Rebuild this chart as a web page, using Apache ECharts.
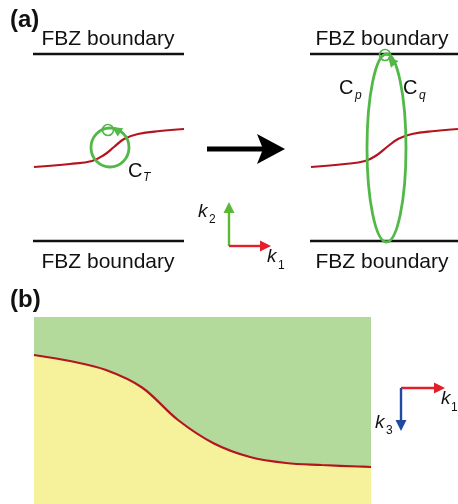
<!DOCTYPE html>
<html>
<head>
<meta charset="utf-8">
<script src="https://cdn.jsdelivr.net/npm/echarts@6/dist/echarts.min.js"></script>
<style>
  html, body { margin: 0; padding: 0; background: #fff; }
  #chart { width: 458px; height: 504px; }
</style>
</head>
<body>
<div id="chart"></div>
<script>
// everything is placed in a 458 x 504 value space (y grows downward)
const boundaryYs = [54, 241];
const panelSpans = [[33, 184], [310, 458]];

// red curve in panel (a), before and after
const leftCurve = [[34, 167], [70, 164], [92, 161], [104, 155], [114, 147], [124, 139], [138, 134], [160, 131], [184, 129]];
const rightCurve = [[311, 167], [345, 164], [365, 161], [377, 155], [387, 147], [398, 139], [412, 134], [435, 131], [458, 129]];

// loops: [cx, cy, rx, ry]
const loops = [[110, 147.5, 19, 19.5], [386.5, 148, 19.5, 94]];
const smallLoops = [[108, 130, 5.5, 5.5], [385, 55, 5.5, 5.5]];
// loop arrowheads: [tipX, tipY, fromX, fromY]
const loopHeads = [[112, 127, 123, 134], [388, 57, 397, 67]];

// coordinate arrows: [x1, y1, x2, y2, colour index]
const axisArrows = [
  [229, 246, 229, 202, 0],
  [229, 246, 271, 246, 1],
  [401, 388, 445, 388, 1],
  [401, 388, 401, 431, 2]
];
const bigArrow = [[207, 149, 285, 149]];

// panel (b): phase boundary
const phaseBox = [[34, 317, 371, 504]];
const phaseBoundary = [[34, 355], [70, 361], [106, 370], [142, 387.5], [178, 420], [214, 443.5], [250, 457], [286, 463], [322, 465], [358, 466.5], [371, 467]];

const RED_CURVE = '#b3151f';
const GREEN = '#52b847';
const ARROW_COLORS = ['#5bb832', '#e3202a', '#1f4aa0'];
const FONT = '"Liberation Sans", Arial, sans-serif';

const chart = echarts.init(document.getElementById('chart'));

function segData(spans, ys) {
  const out = [];
  ys.forEach(y => spans.forEach(s => out.push([s[0], y, s[1], y])));
  return out;
}

function arrowItem(params, api, color, width, headLen, headHalf, notch) {
  const a = api.coord([api.value(0), api.value(1)]);
  const b = api.coord([api.value(2), api.value(3)]);
  const dx = b[0] - a[0], dy = b[1] - a[1];
  const len = Math.sqrt(dx * dx + dy * dy);
  const ux = dx / len, uy = dy / len;
  const px = -uy, py = ux;
  const bx = b[0] - ux * headLen, by = b[1] - uy * headLen;
  const nx = b[0] - ux * (headLen - notch), ny = b[1] - uy * (headLen - notch);
  return {
    type: 'group',
    children: [
      { type: 'line', shape: { x1: a[0], y1: a[1], x2: nx, y2: ny },
        style: { stroke: color, lineWidth: width } },
      { type: 'polygon', shape: { points: [b, [bx + px * headHalf, by + py * headHalf], [nx, ny], [bx - px * headHalf, by - py * headHalf]] },
        style: { fill: color } }
    ]
  };
}

function ellipseItem(params, api, width) {
  const c = api.coord([api.value(0), api.value(1)]);
  const s = api.size([api.value(2), api.value(3)]);
  return { type: 'ellipse', shape: { cx: c[0], cy: c[1], rx: Math.abs(s[0]), ry: Math.abs(s[1]) },
    style: { fill: 'none', stroke: GREEN, lineWidth: width } };
}

function txt(x, y, text, size, opts) {
  return {
    type: 'text', x: x, y: y,
    style: { text: text, font: (opts && opts.font) || (size + 'px ' + FONT), fill: '#111',
      align: (opts && opts.align) || 'left', verticalAlign: 'middle' }
  };
}
function it(x, y, text, size) {
  return txt(x, y, text, size, { font: 'italic ' + size + 'px ' + FONT });
}

chart.setOption({
  animation: false,
  grid: { left: 0, right: 0, top: 0, bottom: 0 },
  xAxis: { type: 'value', min: 0, max: 458, show: false },
  yAxis: { type: 'value', min: 0, max: 504, inverse: true, show: false },
  series: [
    {
      type: 'custom', name: 'phaseBox', z: 1,
      data: phaseBox,
      renderItem: (params, api) => {
        const a = api.coord([api.value(0), api.value(1)]);
        const b = api.coord([api.value(2), api.value(3)]);
        return { type: 'rect', shape: { x: a[0], y: a[1], width: b[0] - a[0], height: b[1] - a[1] },
          style: { fill: '#b4da9b' } };
      }
    },
    {
      type: 'line', name: 'phaseBoundary', z: 2,
      data: phaseBoundary, smooth: 0.35, symbol: 'none',
      lineStyle: { color: RED_CURVE, width: 2.2 },
      areaStyle: { color: '#f6f29c', opacity: 1, origin: 'end' }
    },
    {
      type: 'custom', name: 'boundaries', z: 3,
      data: segData(panelSpans, boundaryYs),
      renderItem: (params, api) => {
        const a = api.coord([api.value(0), api.value(1)]);
        const b = api.coord([api.value(2), api.value(3)]);
        return { type: 'line', shape: { x1: a[0], y1: a[1], x2: b[0], y2: b[1] },
          style: { stroke: '#111', lineWidth: 2.5 } };
      }
    },
    {
      type: 'line', name: 'leftCurve', z: 3, data: leftCurve, smooth: 0.4, symbol: 'none',
      lineStyle: { color: RED_CURVE, width: 2.2 }
    },
    {
      type: 'line', name: 'rightCurve', z: 3, data: rightCurve, smooth: 0.4, symbol: 'none',
      lineStyle: { color: RED_CURVE, width: 2.2 }
    },
    {
      type: 'custom', name: 'loops', z: 4, data: loops,
      renderItem: (params, api) => ellipseItem(params, api, 2.8)
    },
    {
      type: 'custom', name: 'smallLoops', z: 4, data: smallLoops,
      renderItem: (params, api) => ellipseItem(params, api, 1.6)
    },
    {
      type: 'custom', name: 'loopHeads', z: 5, data: loopHeads,
      renderItem: (params, api) => {
        const tip = api.coord([api.value(0), api.value(1)]);
        const from = api.coord([api.value(2), api.value(3)]);
        const dx = tip[0] - from[0], dy = tip[1] - from[1];
        const l = Math.sqrt(dx * dx + dy * dy);
        const ux = dx / l, uy = dy / l, px = -uy, py = ux;
        const bx = tip[0] - ux * 10, by = tip[1] - uy * 10;
        return { type: 'polygon', shape: { points: [tip, [bx + px * 5, by + py * 5], [bx - px * 5, by - py * 5]] },
          style: { fill: GREEN } };
      }
    },
    {
      type: 'custom', name: 'axisArrows', z: 5, data: axisArrows,
      renderItem: (params, api) => arrowItem(params, api, ARROW_COLORS[api.value(4)], 2.4, 11, 5.5, 0)
    },
    {
      type: 'custom', name: 'bigArrow', z: 5, data: bigArrow,
      renderItem: (params, api) => arrowItem(params, api, '#000', 5, 28, 15, 6)
    }
  ],
  graphic: [
    txt(10, 20, '(a)', 24, { font: 'bold 24px ' + FONT }),
    txt(108, 39, 'FBZ boundary', 21, { align: 'center' }),
    txt(108, 262, 'FBZ boundary', 21, { align: 'center' }),
    txt(382, 39, 'FBZ boundary', 21, { align: 'center' }),
    txt(382, 262, 'FBZ boundary', 21, { align: 'center' }),
    txt(128, 171, 'C', 20),
    it(143, 178, 'T', 12),
    txt(339, 88, 'C', 20),
    it(355, 96, 'p', 12),
    txt(403, 88, 'C', 20),
    it(419, 96, 'q', 12),
    it(198, 212, 'k', 19),
    txt(209, 220, '2', 12),
    it(267, 257, 'k', 19),
    txt(278, 266, '1', 12),
    txt(10, 300, '(b)', 24, { font: 'bold 24px ' + FONT }),
    txt(247, 343, 'Nonzero Zak phase', 20, { align: 'center' }),
    txt(162, 473, 'Zero-valued Zak phase', 20, { align: 'center' }),
    it(441, 399, 'k', 19),
    txt(451, 408, '1', 12),
    it(375, 423, 'k', 19),
    txt(386, 431, '3', 12)
  ]
});
</script>
</body>
</html>
